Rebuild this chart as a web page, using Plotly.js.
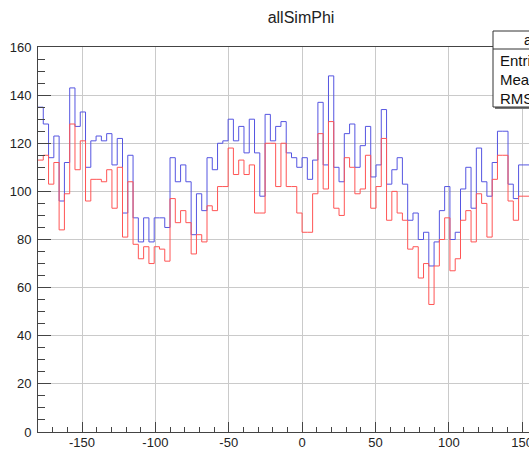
<!DOCTYPE html>
<html>
<head>
<meta charset="utf-8">
<script src="https://cdn.plot.ly/plotly-3.0.1.min.js"></script>
<style>
html,body{margin:0;padding:0;background:#fff;overflow:hidden;}
#chart{width:529px;height:450px;}
</style>
</head>
<body>
<div id="chart"></div>
<script>
// Histogram binning (ROOT TH1: 100 bins from -180 to 180); bins visible in the crop
const binStart = -180;
const binWidth = 3.6;

// allSimPhi (blue) bin contents
const blueCounts = [
  135,128,114,123,96,112,143,127,133,110,
  121,123,121,124,111,122,91,115,89,79,
  89,79,89,89,85,114,104,111,104,82,
  99,92,114,109,120,121,130,121,127,116,
  130,116,98,132,121,127,129,116,114,110,
  114,105,113,137,111,148,110,104,124,128,
  110,119,127,106,111,134,103,109,114,103,
  88,91,80,83,69,79,92,102,80,83,
  101,110,93,118,104,98,112,125,125,103,
  97,111,111
];

// second (red) histogram bin contents
const redCounts = [
  113,115,103,112,84,99,128,109,121,96,
  105,105,104,109,93,110,81,104,78,72,
  77,70,77,76,71,97,87,92,87,74,
  82,79,94,92,102,102,118,107,113,107,
  111,91,91,120,120,102,120,102,102,91,
  83,83,99,124,101,129,93,90,114,110,
  99,101,115,93,102,122,88,100,91,88,
  76,77,64,70,53,69,80,89,67,72,
  88,92,79,99,95,81,105,115,115,96,
  88,98,98
];

// axis ticks
const yTickVals = [0,20,40,60,80,100,120,140,160];
const xTickVals = [-150,-100,-50,0,50,100,150];

// stats box labels
const statsTitle = "allSimPhi";
const statsLabels = ["Entries", "Mean", "RMS"];

function stepTrace(counts, color) {
  const xs = [], ys = [];
  for (let i = 0; i <= counts.length; i++) {
    xs.push(binStart + i * binWidth);
    ys.push(counts[Math.min(i, counts.length - 1)]);
  }
  return {
    type: 'scatter', mode: 'lines', x: xs, y: ys,
    line: {shape: 'hv', color: color, width: 1},
    hoverinfo: 'skip', showlegend: false, cliponaxis: true
  };
}

const traces = [
  stepTrace(blueCounts, 'rgb(85,85,225)'),
  stepTrace(redCounts, 'rgb(255,85,85)')
];

const fontFam = 'Liberation Sans, Arial, Helvetica, sans-serif';
const plotL = 38, plotR = 529, plotT = 47, plotB = 432;
const px2x = (px) => (px - plotL) / (plotR - plotL);
const py2y = (py) => (plotB - py) / (plotB - plotT);

const boxX0 = px2x(493), boxX1 = px2x(613);
const shapes = [
  {type:'rect', xref:'paper', yref:'paper', x0: px2x(495), x1: px2x(615), y0: py2y(109), y1: py2y(33),
   line:{width:0}, fillcolor:'#777', layer:'above'},
  {type:'rect', xref:'paper', yref:'paper', x0: boxX0, x1: boxX1, y0: py2y(107), y1: py2y(31),
   line:{color:'#333', width:1}, fillcolor:'#ffffff', layer:'above'},
  {type:'line', xref:'paper', yref:'paper', x0: boxX0, x1: boxX1, y0: py2y(49), y1: py2y(49),
   line:{color:'#333', width:1}, layer:'above'}
];

const annotations = [
  {xref:'paper', yref:'paper', x: (boxX0 + boxX1) / 2, y: py2y(40), text: statsTitle,
   showarrow:false, xanchor:'center', yanchor:'middle', font:{family:fontFam, size:14, color:'#111'}}
];
const rowY = [60, 79, 98];
statsLabels.forEach((t, i) => {
  annotations.push({xref:'paper', yref:'paper', x: px2x(498), y: py2y(rowY[i]), text: t,
    showarrow:false, xanchor:'left', yanchor:'middle', font:{family:fontFam, size:15, color:'#111'}});
});

const layout = {
  width: 529, height: 450,
  paper_bgcolor: '#ffffff', plot_bgcolor: '#ffffff',
  margin: {l: plotL, r: 0, t: plotT, b: 450 - plotB, pad: 0},
  title: {text: 'allSimPhi', x: 301 / 529, xref: 'container',
          y: 1 - 17 / 450, yref: 'container', xanchor: 'center', yanchor: 'middle',
          font: {family: fontFam, size: 16, color: '#222'}},
  xaxis: {
    range: [binStart, binStart + (plotR - plotL) / 1.467],
    tickvals: xTickVals, ticktext: xTickVals.map(String),
    ticks: 'inside', ticklen: 10, tickwidth: 1, tickcolor: '#444',
    minor: {dtick: 10, tick0: 0, ticks: 'inside', ticklen: 5, tickcolor: '#444', showgrid: false},
    showgrid: true, gridcolor: '#cacaca', gridwidth: 1,
    showline: true, linecolor: '#444', linewidth: 1, mirror: true,
    zeroline: false, tickfont: {family: fontFam, size: 13, color: '#222'},
    ticklabeloverflow: 'allow', ticklabelstandoff: -2,
    fixedrange: true
  },
  yaxis: {
    range: [0, 160],
    tickvals: yTickVals, ticktext: yTickVals.map(String),
    ticks: 'inside', ticklen: 13, tickwidth: 1, tickcolor: '#444',
    minor: {dtick: 5, tick0: 0, ticks: 'inside', ticklen: 7, tickcolor: '#444', showgrid: false},
    showgrid: true, gridcolor: '#cacaca', gridwidth: 1,
    showline: true, linecolor: '#444', linewidth: 1, mirror: false,
    zeroline: false, tickfont: {family: fontFam, size: 13, color: '#222'},
    ticklabelstandoff: 3,
    fixedrange: true
  },
  shapes: shapes,
  annotations: annotations,
  showlegend: false
};

Plotly.newPlot('chart', traces, layout, {staticPlot: true, displayModeBar: false});
</script>
</body>
</html>
